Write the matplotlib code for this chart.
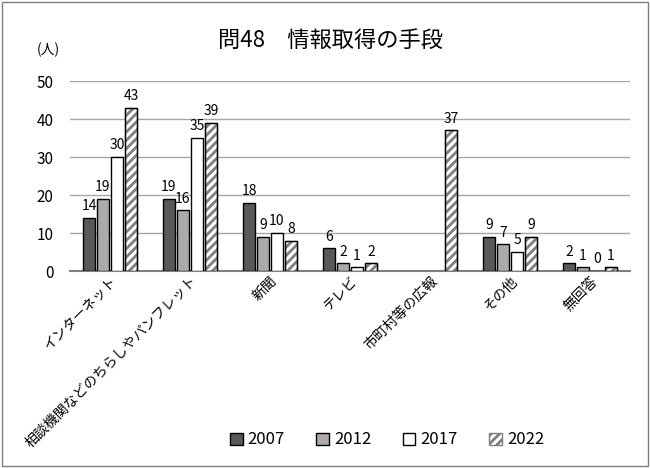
import numpy as np
import matplotlib
matplotlib.use('Agg')
import matplotlib.pyplot as plt
from matplotlib.patches import Rectangle

plt.rcParams['font.family'] = ['Noto Sans CJK JP', 'DejaVu Sans']
plt.rcParams['hatch.linewidth'] = 2.0

categories = ['インターネット', '相談機関などのちらしやパンフレット', '新聞', 'テレビ',
              '市町村等の広報', 'その他', '無回答']
years = ['2007', '2012', '2017', '2022']
v2007 = [14, 19, 18, 6, np.nan, 9, 2]
v2012 = [19, 16, 9, 2, np.nan, 7, 1]
v2017 = [30, 35, 10, 1, np.nan, 5, 0]
v2022 = [43, 39, 8, 2, 37, 9, 1]

series = [v2007, v2012, v2017, v2022]
faces = ['#595959', '#aeaaaa', 'white', 'white']
hatches = [None, None, None, '////']

fig = plt.figure(figsize=(6.5, 4.68), dpi=100)
ax = fig.add_axes([70 / 650, 1 - 271 / 468, 560 / 650, 190 / 468])

x = np.arange(len(categories))
w = 0.15
step = 0.175
for i, vals in enumerate(series):
    pos = x + (i - 1.5) * step
    bars = ax.bar(pos, vals, width=w, color=faces[i], edgecolor='black',
                  linewidth=1.0, hatch=hatches[i], label=years[i], zorder=3)
    if hatches[i]:
        for b in bars:
            b.set_edgecolor('#7f7f7f')
        # redraw outline in black on top of the hatch
        ax.bar(pos, vals, width=w, fill=False, edgecolor='black', linewidth=1.0, zorder=4)
    for p, v in zip(pos, vals):
        if not np.isnan(v):
            ax.text(p, v + 1.2, f'{v:g}', ha='center', va='bottom', fontsize=10)

ax.set_ylim(0, 50)
ax.set_xlim(-0.5, len(categories) - 0.5)
ax.set_yticks(range(0, 51, 10))
ax.tick_params(axis='y', length=0, labelsize=11, pad=12)
ax.tick_params(axis='x', length=0, pad=2)
ax.set_xticks(x)
ax.set_xticklabels(categories, rotation=45, ha='right', rotation_mode='anchor', fontsize=10)
ax.grid(axis='y', color='#a6a6a6', linewidth=1.0, zorder=0)
for s in ['left', 'right', 'top']:
    ax.spines[s].set_visible(False)
ax.spines['bottom'].set_color('#7f7f7f')
ax.spines['bottom'].set_linewidth(1.5)

fig.text(330 / 650, 1 - 40 / 468, '問48　情報取得の手段', ha='center', va='center', fontsize=16)
fig.text(48 / 650, 1 - 50 / 468, '(人)', ha='center', va='center', fontsize=10)

leg = fig.legend(loc='center', bbox_to_anchor=(387 / 650, 1 - 440 / 468), ncol=4,
                 frameon=False, fontsize=12, handlelength=0.75, handleheight=0.75,
                 handletextpad=0.3, columnspacing=1.9)

# outer frame of the chart
fig.patches.append(Rectangle((2 / 650, 2 / 468), 646 / 650, 464 / 468, transform=fig.transFigure,
                             fill=False, edgecolor='#7f7f7f', linewidth=1.0))

fig.savefig('out.png', dpi=100)
